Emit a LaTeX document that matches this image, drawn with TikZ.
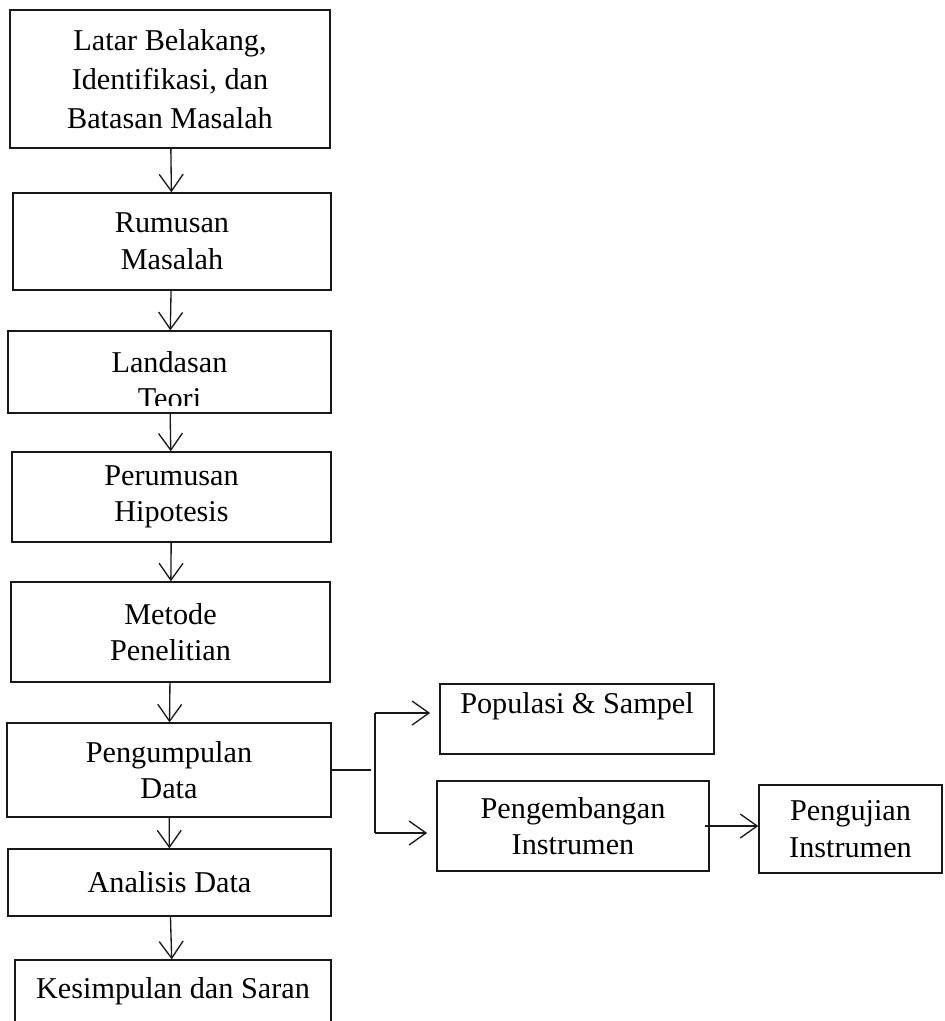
\documentclass[tikz,border=0pt]{standalone}
\usepackage{fontspec}
\setmainfont{Liberation Serif}
\usetikzlibrary{arrows.meta,positioning}
\definecolor{ink}{RGB}{25,25,25}
\tikzset{
  >={Straight Barb[length=12pt,width=17pt]},
  box/.style={draw=ink,line width=0.95pt,inner sep=0pt,align=center,
    font=\fontsize{21.5}{26}\selectfont,text=black},
  flow/.style={->,draw=ink,line width=0.95pt},
  link/.style={draw=ink,line width=0.95pt},
}
\begin{document}
\begin{tikzpicture}[x=0.025cm,y=-0.025cm]
  \useasboundingbox (0,0) rectangle (945,1021);
  % main column
  \node[box,minimum width=8cm,minimum height=3.45cm,font=\fontsize{21.5}{27.5}\selectfont] (lb) at (170,79) {Latar Belakang,\\Identifikasi, dan\\Batasan Masalah};
  \node[box,minimum width=7.95cm,minimum height=2.425cm] (rm) at (172,241.5) {Rumusan\\Masalah};
  \node[box,minimum width=8.075cm,minimum height=2.05cm] (lt) at (169.5,372) {};
  \begin{scope}
    \clip (0,331) rectangle (340,405);
    \node[box,draw=none] (ltx) at (169.5,380) {Landasan\\Teori};
  \end{scope}
  \node[box,minimum width=7.975cm,minimum height=2.25cm] (ph) at (171.5,497) {Perumusan\\Hipotesis};
  \node[box,minimum width=7.975cm,minimum height=2.5cm] (mp) at (170.5,632) {Metode\\Penelitian};
  \node[box,minimum width=8.1cm,minimum height=2.35cm] (pd) at (169,770) {Pengumpulan\\Data};
  \node[box,minimum width=8.075cm,minimum height=1.675cm] (ad) at (169.5,882.5) {Analisis Data};
  \node[box,minimum width=7.9cm,minimum height=2.25cm,text depth=24pt] (ks) at (173,1005) {Kesimpulan dan Saran};
  % side boxes
  \node[box,minimum width=6.85cm,minimum height=1.75cm,text depth=23pt] (ps) at (577,719) {Populasi \& Sampel};
  \node[box,minimum width=6.8cm,minimum height=2.25cm] (pe) at (573,826) {Pengembangan\\Instrumen};
  \node[box,minimum width=4.575cm,minimum height=2.2cm] (pu) at (850.5,829) {Pengujian\\Instrumen};

  \foreach \a/\b in {lb/rm,rm/lt,lt/ph,ph/mp,mp/pd,pd/ad,ad/ks}
    \draw[flow] (\a) -- (\b);

  % branch to the right
  \coordinate (b0) at (371,770);
  \coordinate (b1) at (375,713);
  \coordinate (b2) at (375,833);
  \draw[link] (pd.east) -- (b0);
  \draw[link] (b1) -- (b2);
  \draw[flow,shorten >=6.5pt] (b1) -- (b1 -| ps.west);
  \draw[flow,shorten >=6.5pt] (b2) -- (b2 -| pe.west);
  \draw[flow] ([xshift=-3.5pt]pe.east) -- (pe.east -| pu.west);
\end{tikzpicture}
\end{document}
